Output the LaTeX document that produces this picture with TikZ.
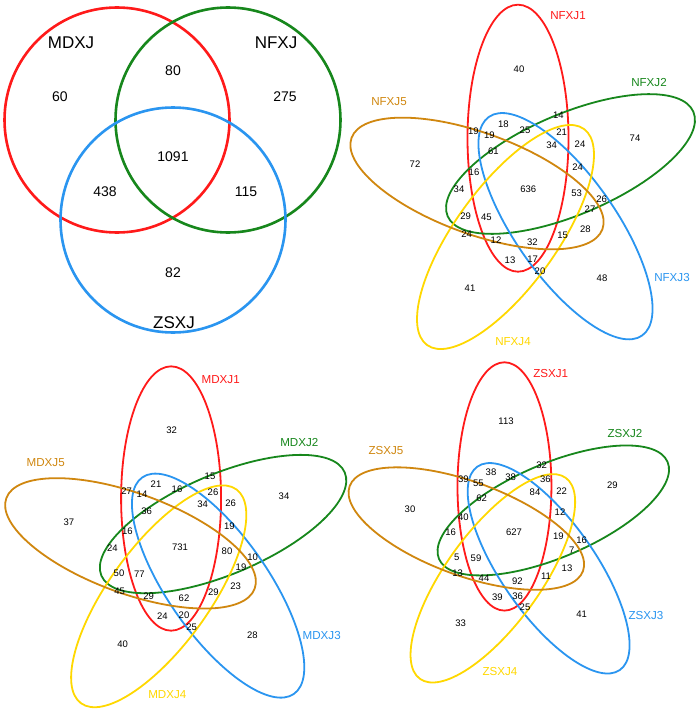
\documentclass[tikz,border=0pt]{standalone}
\usepackage{fontspec}
\setmainfont{Liberation Sans}
\definecolor{vred}{HTML}{FF1A1A}
\definecolor{vgreen}{HTML}{17871C}
\definecolor{vblue}{HTML}{2A95F0}
\definecolor{vyellow}{HTML}{FFD800}
\definecolor{vorange}{HTML}{D0870F}
\tikzset{
  circ/.style={line width=2.6pt},
  ell/.style={line width=1.8pt},
  bignum/.style={font=\fontsize{14}{16}\selectfont, inner sep=0pt},
  biglab/.style={font=\fontsize{17}{19}\selectfont, inner sep=0pt},
  num/.style={font=\fontsize{9.5}{11}\selectfont, inner sep=0pt},
  lab/.style={font=\fontsize{11.6}{13}\selectfont, inner sep=0pt},
}
\newcommand{\fiveell}[3]{%
  \begin{scope}[shift={(#1,#2)}, scale=#3]
    \foreach \px/\py/\r/\col in {-9.4/-50.6/0/vred, 43.1/-24.8/-67/vgreen,
        38.1/37.4/-145/vblue, -21.9/48.2/-216/vyellow, -50.4/-5.3/-290/vorange}
      \draw[ell, \col, rotate around={\r:(\px,\py)}] (\px,\py) ellipse [x radius=50.5, y radius=133.5];
  \end{scope}}
\begin{document}
\begin{tikzpicture}[x=1pt,y=-1pt]
\useasboundingbox (0,0) rectangle (697,709);
\fill[white] (0,0) rectangle (697,709);
% three-set Venn
\draw[circ, vred] (117,120) circle [radius=112.5];
\draw[circ, vgreen] (228,120) circle [radius=112.5];
\draw[circ, vblue] (173,220) circle [radius=112.5];
\node[biglab] (lmd) at (71,43) {MDXJ};
\node[biglab] (lnf) at (276,43) {NFXJ};
\node[biglab] (lzs) at (174,323) {ZSXJ};
\foreach \x/\y/\t [count=\i] in {60/97/60, 173/71/80, 285/97/275, 173/157/1091, 105/192/438, 246/192/115, 173/273/82}
  \node[bignum] (tl\i) at (\x,\y) {\t};
% NFXJ
\fiveell{527.4}{188.8}{1}
\node[lab, vred] (nf1) at (568,16) {NFXJ1};
\node[lab, vgreen] (nf2) at (649,83) {NFXJ2};
\node[lab, vblue] (nf3) at (672,278) {NFXJ3};
\node[lab, vyellow] (nf4) at (513,342) {NFXJ4};
\node[lab, vorange] (nf5) at (389,102) {NFXJ5};
\foreach \x/\y/\t [count=\i] in {
  519/69/40, 635/138/74, 415/164/72, 602/278/48, 470/288/41,
  473.3/131.7/19, 489.3/135.7/19, 503.3/124/18, 525/130/25, 558.3/115.7/14,
  561.7/132.3/21, 551.7/145/34, 580/144/24, 493.3/151.7/61, 474/172.7/16,
  577.7/167.3/24, 459/189.3/34, 528.3/189.3/636, 576.7/193.3/53, 601.7/199/26,
  590/209.3/27, 465.7/216/29, 486.3/217.3/45, 585.3/229.3/28, 466.7/234.3/24,
  562.7/235/15, 496/240/12, 532.3/242.7/32, 510/260/13, 532.7/259.3/17, 540/271.7/20}
  \node[num] (tr\i) at (\x,\y) {\t};
% MDXJ
\fiveell{180.4}{548.6}{0.99}
\node[lab, vred] (md1) at (220.7,379.3) {MDXJ1};
\node[lab, vgreen] (md2) at (299.3,442.7) {MDXJ2};
\node[lab, vblue] (md3) at (321.7,635) {MDXJ3};
\node[lab, vyellow] (md4) at (167.3,695) {MDXJ4};
\node[lab, vorange] (md5) at (45.7,462.7) {MDXJ5};
\foreach \x/\y/\t [count=\i] in {
  171.7/430/32, 284/496.7/34, 69/522.7/37, 252.3/635/28, 122.7/644.3/40,
  126.7/491/27, 156/484/21, 142/494.7/14, 177/489.3/16, 210/476/15,
  213/492/26, 202.7/504.3/34, 230.7/503.3/26, 146.7/511/36, 127.3/531.3/16,
  229.3/526/19, 112.3/548.3/24, 180/547.7/731, 227/551/80, 252.7/557.7/10,
  241/567/19, 119/573.3/50, 139.3/574.7/77, 235.7/586.7/23, 119.7/591/45,
  148.7/596.7/29, 184/598.7/62, 213.3/592.7/29, 162.3/616.3/24, 184/615/20,
  191.7/627.3/25}
  \node[num] (bl\i) at (\x,\y) {\t};
% ZSXJ
\fiveell{513.2}{533.5}{0.93}
\node[lab, vred] (zs1) at (550.7,373.3) {ZSXJ1};
\node[lab, vgreen] (zs2) at (625,433.3) {ZSXJ2};
\node[lab, vblue] (zs3) at (646,615) {ZSXJ3};
\node[lab, vyellow] (zs4) at (500,671.7) {ZSXJ4};
\node[lab, vorange] (zs5) at (386,451) {ZSXJ5};
\foreach \x/\y/\t [count=\i] in {
  506/421/113, 612.3/485/29, 410/509/30, 581.7/614.3/41, 460.7/623.3/33,
  463.3/479.3/39, 491/472.7/38, 478.3/483/55, 510.7/477.3/38, 541.7/465/32,
  545.3/479.3/36, 535/492/84, 561.7/490.7/22, 481.7/498.3/62, 560/511.7/12,
  463.3/517.7/40, 450.7/532.3/16, 514/532.3/627, 558.3/536/19, 581.7/540.7/16,
  571.7/550.7/7, 456.7/557.3/5, 476/558.3/59, 457.7/573.3/13, 484/578.7/44,
  517.3/581/92, 546/576/11, 567/568.7/13, 497.3/597.3/39, 517.7/596/36,
  525/607.3/25}
  \node[num] (br\i) at (\x,\y) {\t};
\end{tikzpicture}
\end{document}
